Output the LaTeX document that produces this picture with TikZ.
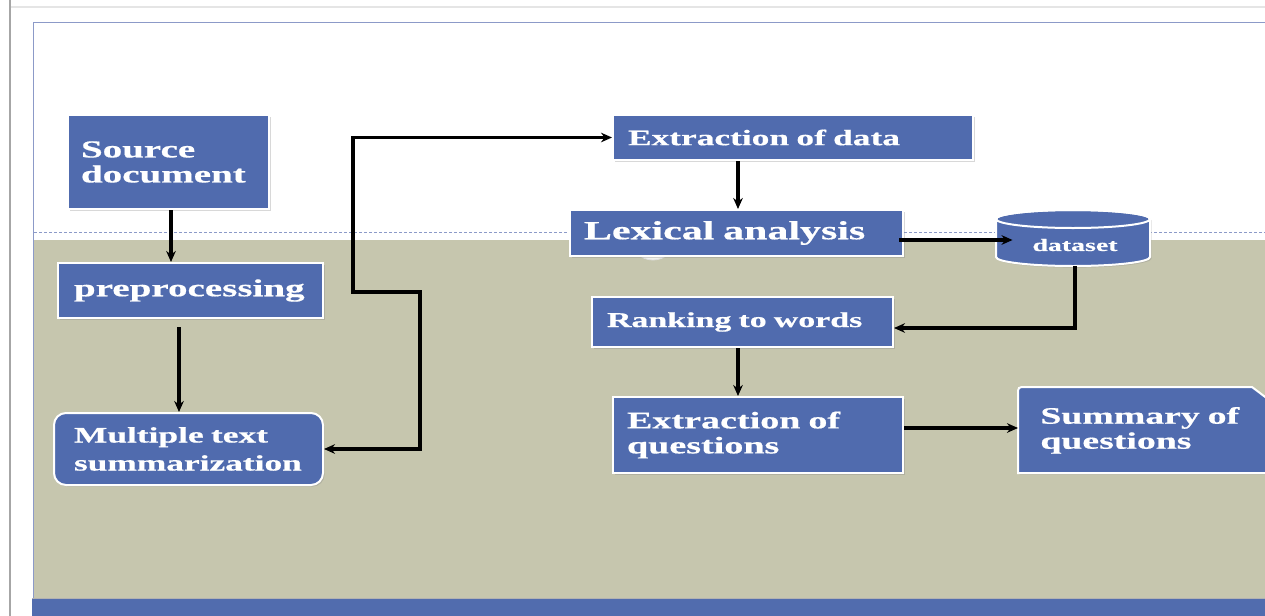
\documentclass[tikz,border=0pt]{standalone}
\usepackage{fontspec}
\newfontfamily\boxfont{Liberation Serif Bold}[FakeStretch=1.6,FakeBold=0.6]
\usetikzlibrary{arrows.meta,shadows,calc}
\hyphenpenalty=10000
\exhyphenpenalty=10000
\definecolor{boxblue}{RGB}{80,107,174}
\definecolor{khaki}{RGB}{198,198,174}
\definecolor{framec}{RGB}{140,154,200}
\definecolor{barblue}{RGB}{81,108,174}
\begin{document}
\begin{tikzpicture}[x=0.5pt,y=-0.5pt,
  shade/.style={drop shadow={shadow xshift=0.8pt,shadow yshift=-0.8pt,opacity=0.3}},
  box/.style={fill=boxblue, draw=white, line width=1pt, text=white, anchor=north west,
              align=left, inner ysep=0pt, shade},
  fs/.style 2 args={font=\boxfont\fontsize{#1}{#2}\selectfont},
  arr/.style={line width=1.6pt,-{Stealth[length=5.5pt,width=4.8pt]}},
  arrb/.style={line width=1.6pt,{Stealth[length=5.5pt,width=4.8pt]}-{Stealth[length=5.5pt,width=4.8pt]}},
]
% page and background
\useasboundingbox (0,0) rectangle (1265,616);
\fill[white] (0,0) rectangle (1265,616);
\draw[gray!20, line width=1pt] (10,7) -- (1265,7);
\draw[gray!70, line width=1.2pt] (10,0) -- (10,616);
\fill[khaki] (34,240) rectangle (1265,598);
\draw[framec, line width=0.5pt] (33,598) -- (33,22) -- (1265,22);
\draw[framec, line width=0.4pt, dash pattern=on 1.5pt off 1pt] (34,232) -- (1265,232);
\fill[barblue] (32,598) rectangle (1265,616);
\draw[gray!60, line width=0.5pt] (32,598) -- (1265,598);

% faint round shape under lexical analysis
\filldraw[fill=white!75!khaki, draw=gray!25, line width=0.4pt] (653,237) circle[radius=11.5pt];

% boxes
\node[box, fs={12.2}{12.5}, minimum width=100.5pt, minimum height=47pt,
      text width=87.5pt, inner xsep=6.5pt] (src) at (67,114) {Source\\document};
\node[box, fs={12.2}{12.5}, minimum width=132.5pt, minimum height=27.5pt,
      text width=116.5pt, inner xsep=8pt] (pre) at (57,262) {preprocessing};
\node[box, fs={11.05}{14}, minimum width=134.5pt, minimum height=36pt, rounded corners=6pt,
      text width=114.5pt, inner xsep=10pt] (mts) at (53,412) {Multiple text\\summarization};
\node[box, fs={11.05}{12}, minimum width=180pt, minimum height=22.5pt,
      text width=165pt, inner xsep=7.5pt] (ed) at (612,114) {Extraction of data};
\node[box, fs={13.1}{14}, minimum width=166.5pt, minimum height=23pt,
      text width=152.5pt, inner xsep=7pt] (lex) at (569,209) {Lexical analysis};
\node[box, fs={10.6}{11}, minimum width=150.5pt, minimum height=25pt,
      text width=135.5pt, inner xsep=7.5pt] (rank) at (591,296) {Ranking to words};
\node[box, fs={11.9}{12.5}, minimum width=145pt, minimum height=38pt,
      text width=131pt, inner xsep=7pt] (eq) at (612,396) {Extraction of\\questions};

% dataset cylinder
\filldraw[fill=boxblue, draw=white, line width=1pt, shade]
  (996,219) -- (996,257) arc[start angle=180, end angle=360, x radius=38.5pt, y radius=4.5pt]
  -- (1150,219) arc[start angle=0, end angle=180, x radius=38.5pt, y radius=4.5pt] -- cycle;
\draw[white, line width=1pt] (1073,219) ellipse[x radius=38.5pt, y radius=4.5pt];
\node[fs={8.7}{10}, text=white, inner xsep=9.75pt, inner ysep=0pt, minimum height=21pt]
  (ds) at (1075,245) {dataset};

% summary of questions (snipped corner, runs off the page)
\filldraw[fill=boxblue, draw=white, line width=1pt, shade]
  (1018,473) -- (1018,395) .. controls (1018,387) .. (1026,387) -- (1252,387)
  -- (1285,412) -- (1285,473) -- cycle;
\node[fs={11.8}{12.5}, text=white, anchor=north west, align=left, text width=110pt,
      inner xsep=11pt, inner ysep=0pt, minimum height=43pt] (sum) at (1018,387)
  {Summary of\\questions};

% connectors
\draw[arr] ([xshift=1.25pt]src.south) -- ([xshift=1.25pt]src.south |- pre.north);
\coordinate (p1) at ([shift={(-5.75pt,-4pt)}]pre.south);
\draw[arr] (p1) -- (p1 |- mts.north);
\coordinate (r1) at (420,292);
\coordinate (r2) at (353,292);
\draw[arrb] (mts.east) -| (r1) -- (r2) |- (ed.west);
\coordinate (e1) at ([xshift=-27.5pt]ed.south);
\draw[arr] (e1) -- (e1 |- lex.north);
\coordinate (l1) at ([shift={(-2.5pt,-3.5pt)}]lex.east);
\draw[arr] (l1) -- (l1 -| ds.west);
\coordinate (k1) at ([yshift=-3pt]rank.east);
\draw[arr] (ds.south) |- (k1);
\coordinate (r3) at ([xshift=-2.25pt]rank.south);
\draw[arr] (r3) -- (r3 |- eq.north);
\coordinate (q1) at ([yshift=3.5pt]eq.east);
\draw[arr] (q1) -- (q1 -| sum.west);
\end{tikzpicture}
\end{document}
